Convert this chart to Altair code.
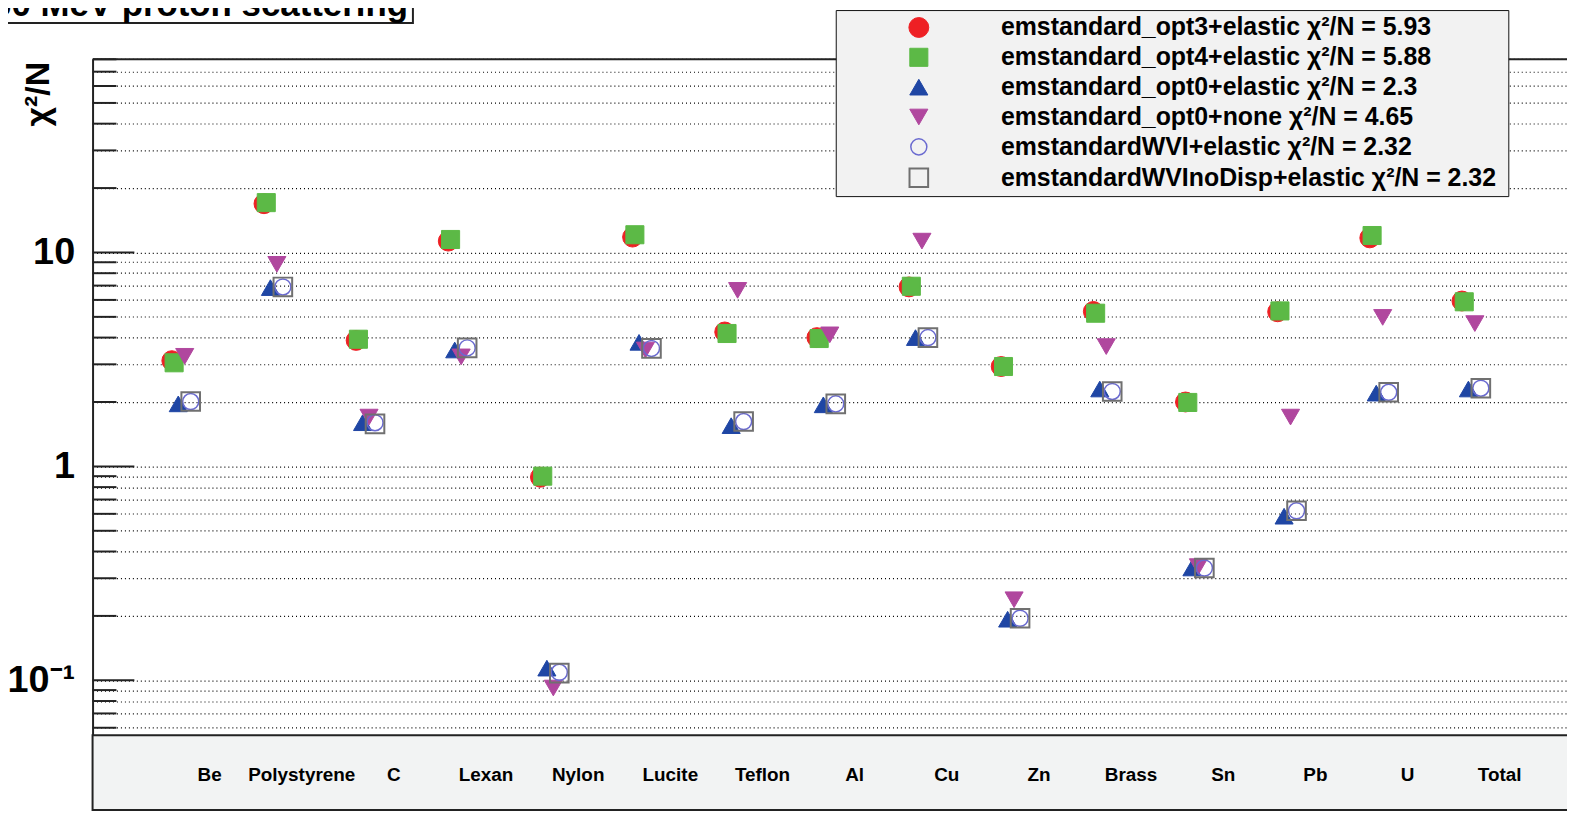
import math
import altair as alt
import pandas as pd

# ---------------- data ----------------
categories = ["Be", "Polystyrene", "C", "Lexan", "Nylon", "Lucite", "Teflon", "Al",
              "Cu", "Zn", "Brass", "Sn", "Pb", "U", "Total"]

series_names = [
    "emstandard_opt3+elastic  χ²/N = 5.93",
    "emstandard_opt4+elastic  χ²/N = 5.88",
    "emstandard_opt0+elastic  χ²/N = 2.3",
    "emstandard_opt0+none  χ²/N = 4.65",
    "emstandardWVI+elastic  χ²/N = 2.32",
    "emstandardWVInoDisp+elastic  χ²/N = 2.32",
]

opt3_elastic = [3.12, 16.9, 3.88, 11.3, 0.89, 11.8, 4.25, 4.0, 6.9, 2.93, 5.3, 2.0, 5.28, 11.7, 5.93]
opt4_elastic = [3.05, 17.1, 3.93, 11.5, 0.90, 12.1, 4.18, 3.96, 6.95, 2.93, 5.2, 1.99, 5.33, 12.0, 5.88]
opt0_elastic = [1.96, 6.85, 1.6, 3.5, 0.114, 3.8, 1.55, 1.94, 4.0, 0.193, 2.3, 0.335, 0.585, 2.2, 2.3]
opt0_none = [3.27, 8.8, 1.7, 3.25, 0.092, 3.5, 6.65, 4.12, 11.3, 0.238, 3.63, 0.34, 1.7, 4.97, 4.65]
wvi_elastic = [2.01, 6.9, 1.6, 3.58, 0.109, 3.56, 1.62, 1.96, 4.0, 0.195, 2.24, 0.335, 0.62, 2.22, 2.32]
wvinodisp_elastic = [2.01, 6.9, 1.58, 3.58, 0.108, 3.56, 1.62, 1.96, 4.0, 0.195, 2.24, 0.335, 0.62, 2.22, 2.32]

major_ticks = [0.1, 1, 10]
minor_ticks = [0.06, 0.07, 0.08, 0.09,
               0.2, 0.3, 0.4, 0.5, 0.6, 0.7, 0.8, 0.9,
               2, 3, 4, 5, 6, 7, 8, 9,
               20, 30, 40, 50, 60, 70, 80]

title_text = "160 MeV proton scattering"

# ---------------- style ----------------
FONT = "Liberation Sans"
shapes = ["circle", "square", "triangle-up", "triangle-down", "circle", "square"]
fills = ["#ee2024", "#5cb946", "#1f46a4", "#b0479e", "transparent", "transparent"]
strokes = ["#ee2024", "#5cb946", "#1f46a4", "#b0479e", "#6a6ad0", "#707070"]
sizes = [400, 330, 330, 330, 260, 350]
stroke_widths = [1, 1, 1, 1, 1.5, 2]
dodge = [-0.14, -0.115, -0.07, 0.0, 0.065, 0.065]  # horizontal dodge per series

W, H = 1482, 755
BOX_H = 75
YMAX = 80.4
YFRAME = 0.0553
px_per_dec = (H - BOX_H) / (math.log10(YMAX) - math.log10(YFRAME))
YMIN = 10 ** (math.log10(YFRAME) - BOX_H / px_per_dec)

# ---------------- tables ----------------
all_series = [opt3_elastic, opt4_elastic, opt0_elastic, opt0_none, wvi_elastic, wvinodisp_elastic]
rows = []
for s, (name, vals) in enumerate(zip(series_names, all_series)):
    for i, (cat, v) in enumerate(zip(categories, vals)):
        rows.append({"category": cat, "series": name, "sidx": s,
                     "value": v, "xpos": i + 1 + dodge[s]})
df = pd.DataFrame(rows)
df_cat = pd.DataFrame({"category": categories, "xpos": [i + 1 for i in range(len(categories))]})
all_ticks = sorted(minor_ticks + major_ticks)

xscale = alt.Scale(domain=[0, 16], nice=False, zero=False)
yscale = alt.Scale(type="log", domain=[YMIN, YMAX], nice=False, zero=False)

xaxis = alt.Axis(orient="top", labels=False, ticks=False, grid=False, domain=True,
                 domainColor="#222", domainWidth=2, title=None)
yaxis = alt.Axis(values=all_ticks, grid=True, gridColor="#000", gridDash=[1, 3], gridWidth=1.2,
                 ticks=False, tickSize=0, domain=True, domainColor="#222", domainWidth=2,
                 labelExpr="datum.value == 10 ? '10' : datum.value == 1 ? '1' : datum.value == 0.1 ? '10⁻¹' : ''",
                 labelFont=FONT, labelFontSize=38, labelFontWeight="bold", labelColor="#000",
                 labelPadding=18, labelOverlap=False,
                 title="χ²/N", titleFont=FONT, titleFontSize=34, titleFontWeight="bold",
                 titleColor="#000", titleX=-54, titleY=35, titleAngle=270,
                 titleAlign="center", titleBaseline="middle")

legend = alt.Legend(orient="none", legendX=747, legendY=-49, title=None,
                    fillColor="#f2f2f2", strokeColor="#111", padding=5,
                    labelFont=FONT, labelFontWeight="bold", labelFontSize=25, labelColor="#000",
                    labelLimit=800, symbolOffset=66, labelOffset=70, rowPadding=4)

# ---------------- layers ----------------
title_box = alt.Chart(pd.DataFrame({"a": [0]})).mark_rect(
    fill="white", stroke="#222", strokeWidth=2
).encode(x=alt.value(-100), x2=alt.value(322), y=alt.value(-100), y2=alt.value(-36))

title = alt.Chart(pd.DataFrame({"t": [title_text]})).mark_text(
    font=FONT, fontSize=35, fontWeight="bold", align="right", baseline="alphabetic", color="#000"
).encode(x=alt.value(317), y=alt.value(-43), text="t:N")

xbox = alt.Chart(pd.DataFrame({"value": [YFRAME]})).mark_rect(
    fill="#f2f3f3", stroke="#222", strokeWidth=2
).encode(y=alt.Y("value:Q", scale=yscale, axis=yaxis), y2=alt.value(H),
         x=alt.value(0), x2=alt.value(W + 10))

tick_major = alt.Chart(pd.DataFrame({"value": major_ticks})).mark_rule(
    color="#222", strokeWidth=2
).encode(y=alt.Y("value:Q", scale=yscale, axis=yaxis), x=alt.value(0), x2=alt.value(42))

tick_minor = alt.Chart(pd.DataFrame({"value": minor_ticks})).mark_rule(
    color="#222", strokeWidth=2
).encode(y=alt.Y("value:Q", scale=yscale, axis=yaxis), x=alt.value(0), x2=alt.value(24))

points = alt.Chart(df).mark_point(opacity=1).encode(
    x=alt.X("xpos:Q", scale=xscale, axis=xaxis),
    y=alt.Y("value:Q", scale=yscale, axis=yaxis),
    shape=alt.Shape("series:N", scale=alt.Scale(domain=series_names, range=shapes), legend=legend),
    fill=alt.Fill("series:N", scale=alt.Scale(domain=series_names, range=fills), legend=legend),
    stroke=alt.Stroke("series:N", scale=alt.Scale(domain=series_names, range=strokes), legend=legend),
    size=alt.Size("series:N", scale=alt.Scale(type="ordinal", domain=series_names, range=sizes), legend=legend),
    strokeWidth=alt.StrokeWidth("series:N", scale=alt.Scale(type="ordinal", domain=series_names, range=stroke_widths), legend=legend),
    order=alt.Order("sidx:Q"),
)

xlabels = alt.Chart(df_cat).mark_text(
    font=FONT, fontSize=19, fontWeight="bold", color="#000", dx=25, baseline="middle", align="center"
).encode(x=alt.X("xpos:Q", scale=xscale, axis=xaxis), y=alt.value(720), text="category:N")

chart = alt.layer(title_box, title, xbox, tick_major, tick_minor, points, xlabels).properties(
    width=W, height=H,
    autosize=alt.AutoSizeParams(type="none"),
    padding={"left": 85, "top": 49, "right": 0, "bottom": 3},
    background="white",
).configure_view(strokeWidth=0)

chart.save("out.html", embed_options={"renderer": "svg", "actions": False})
